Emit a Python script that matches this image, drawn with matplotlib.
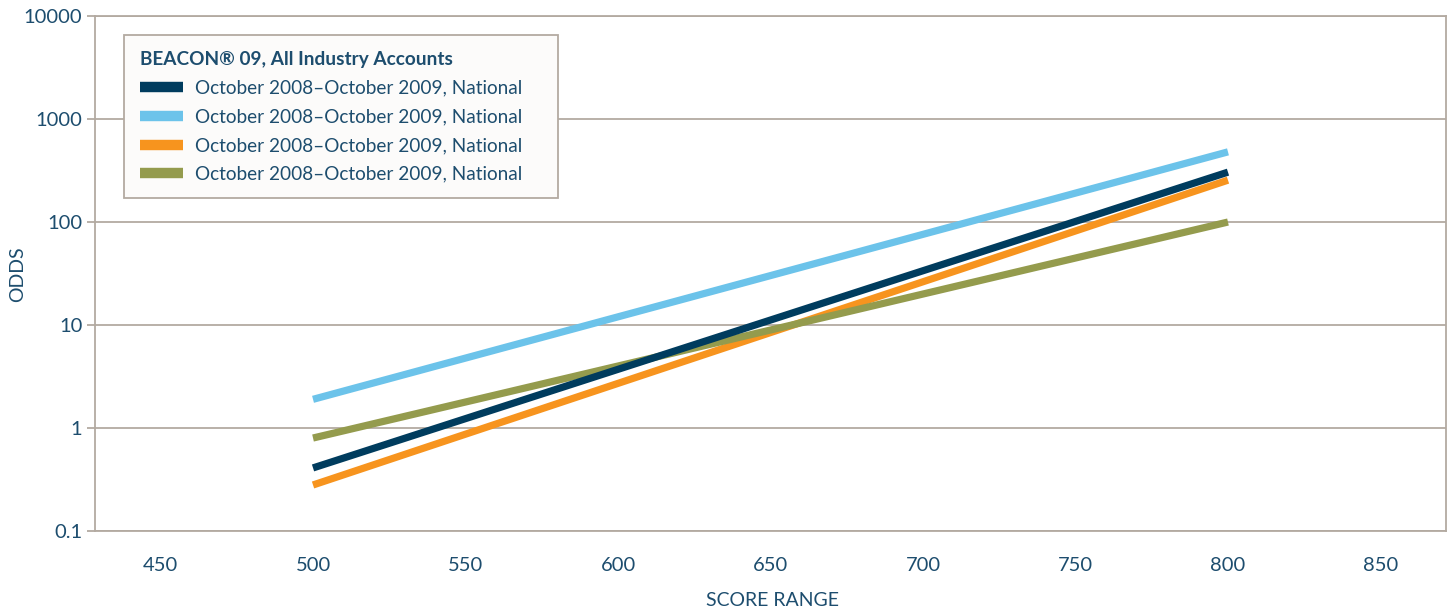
import matplotlib.pyplot as plt
import matplotlib.ticker as ticker

# score range endpoints and odds for each series
scores = [500, 800]
navy_odds = [0.41, 305]
blue_odds = [1.9, 480]
orange_odds = [0.28, 255]
olive_odds = [0.8, 100]

series_label = "October 2008\u2013October 2009, National"
legend_title = "BEACON\u00ae 09, All Industry Accounts"
y_ticks = [0.1, 1, 10, 100, 1000, 10000]
x_ticks = [450, 500, 550, 600, 650, 700, 750, 800, 850]

text_color = "#1d4d6e"
grid_color = "#b3aaa1"

plt.rcParams['font.family'] = ['Lato', 'DejaVu Sans']


def main():
    fig = plt.figure(figsize=(14.52, 6.09), dpi=100)
    ax = fig.add_axes([0.0654, 0.128, 0.9305, 0.8457])

    ax.plot(scores, navy_odds, color="#003c5e", lw=5.2, solid_capstyle='butt', label=series_label, zorder=4)
    ax.plot(scores, blue_odds, color="#6cc3ea", lw=5.2, solid_capstyle='butt', label=series_label, zorder=3)
    ax.plot(scores, orange_odds, color="#f7941e", lw=5.2, solid_capstyle='butt', label=series_label, zorder=3)
    ax.plot(scores, olive_odds, color="#949b4d", lw=5.2, solid_capstyle='butt', label=series_label, zorder=3)

    ax.set_yscale('log')
    ax.set_ylim(0.1, 10000)
    ax.set_xlim(428.5, 871.5)
    ax.set_yticks(y_ticks)
    ax.yaxis.set_major_formatter(ticker.FuncFormatter(lambda v, p: f"{v:g}"))
    ax.yaxis.set_minor_locator(ticker.NullLocator())
    ax.set_xticks(x_ticks)

    ax.grid(axis='y', color=grid_color, lw=1.3)
    ax.set_axisbelow(True)
    for side in ['left', 'right', 'bottom', 'top']:
        ax.spines[side].set_color(grid_color)
        ax.spines[side].set_linewidth(1.3)

    ax.tick_params(axis='y', length=6, width=1.3, color=grid_color, labelsize=14.5,
                   labelcolor=text_color, pad=3)
    ax.tick_params(axis='x', length=0, labelsize=14.5, labelcolor=text_color, pad=18.5)

    ax.set_ylabel("ODDS", fontsize=14, color=text_color)
    ax.yaxis.set_label_coords(-0.0511, 0.499)
    ax.set_xlabel("SCORE RANGE", fontsize=14, color=text_color)
    ax.xaxis.set_label_coords(0.5018, -0.1184)

    leg = ax.legend(loc='upper left', bbox_to_anchor=(0.0215, 0.5, 0.3212, 0.463),
                    mode='expand', borderaxespad=0,
                    title=legend_title, alignment='left', fontsize=13.7,
                    handlelength=2.3, handleheight=0.6, labelspacing=0.62,
                    borderpad=0.82, handletextpad=0.6, fancybox=False,
                    facecolor="#fcfbfa", edgecolor=grid_color, framealpha=1)
    leg.get_frame().set_linewidth(1.3)
    leg.get_title().set_fontweight('bold')
    leg.get_title().set_fontsize(13.7)
    leg.get_title().set_color(text_color)
    for t in leg.get_texts():
        t.set_color(text_color)
    for h in leg.get_lines():
        h.set_linewidth(7.5)

    fig.savefig("out.png", dpi=100)


if __name__ == "__main__":
    main()
